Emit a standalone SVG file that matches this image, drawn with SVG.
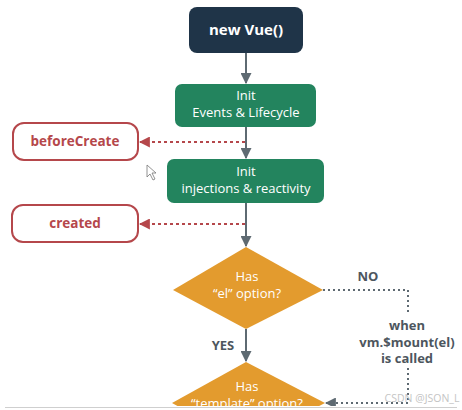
<svg xmlns="http://www.w3.org/2000/svg" width="462" height="410" viewBox="0 0 462 410">
<style>
text{font-family:"Open Sans","Liberation Sans",sans-serif;text-anchor:middle}
.w{fill:#fff;font-size:13px}
.hook{fill:#fff;stroke:#b5474b;stroke-width:2}
.ht{fill:#b5474b;font-size:13.5px;font-weight:bold}
.green{fill:#23845e}
.dia{fill:#e39b2e}
.solid{stroke:#5e6a72;stroke-width:2;fill:none}
.dotr{stroke:#b5474b;stroke-width:2;stroke-dasharray:3 3;fill:none}
.dotg{stroke:#5e6a72;stroke-width:2;stroke-dasharray:2 3;fill:none}
.lbl{fill:#4d565e;font-size:13px;font-weight:bold}
</style>
<defs>
<marker id="ag" viewBox="0 0 10 10" refX="9" refY="5" markerWidth="5.5" markerHeight="5.5" orient="auto"><path d="M0,0L10,5L0,10z" fill="#5e6a72"/></marker>
<marker id="ar" viewBox="0 0 10 10" refX="9" refY="5" markerWidth="5.5" markerHeight="5.5" orient="auto"><path d="M0,0L10,5L0,10z" fill="#b5474b"/></marker>
</defs>
<rect width="462" height="410" fill="#fff"/>
<g id="connectors">
<path class="solid" d="M246,53V83" marker-end="url(#ag)"/>
<path class="solid" d="M246,127V158" marker-end="url(#ag)"/>
<path class="solid" d="M246,203V246" marker-end="url(#ag)"/>
<path class="solid" d="M246,329V361" marker-end="url(#ag)"/>
<path class="dotr" d="M245,142H140" marker-end="url(#ar)"/>
<path class="dotr" d="M245,224H140" marker-end="url(#ar)"/>
<path class="dotg" d="M323,290H408V313"/>
<path class="dotg" d="M408,368V403H326" marker-end="url(#ag)"/>
<text class="lbl" x="368" y="281">NO</text>
<text class="lbl" x="223" y="350">YES</text>
<text class="lbl" x="407" y="330">when</text>
<text class="lbl" x="407" y="346.5">vm.$mount(el)</text>
<text class="lbl" x="407" y="363">is called</text>
</g>
<g id="newVue">
<rect x="189" y="7" width="114" height="46" rx="8" fill="#1f3448"/>
<text x="246" y="35" fill="#fff" font-size="15" font-weight="bold">new Vue()</text>
</g>
<g id="initEvents">
<rect class="green" x="175" y="84" width="141" height="43" rx="7"/>
<text class="w" x="246" y="100">Init</text>
<text class="w" x="246" y="117">Events &amp; Lifecycle</text>
</g>
<g id="beforeCreate">
<rect class="hook" x="13" y="123" width="125" height="37" rx="11"/>
<text class="ht" x="75" y="146">beforeCreate</text>
</g>
<g id="initInjections">
<rect class="green" x="167" y="159" width="157" height="44" rx="7"/>
<text class="w" x="246" y="176">Init</text>
<text class="w" x="246" y="193">injections &amp; reactivity</text>
</g>
<g id="created">
<rect class="hook" x="12" y="205" width="126" height="37" rx="11"/>
<text class="ht" x="75" y="228">created</text>
</g>
<g id="hasEl">
<path class="dia" d="M246,247L323,290L246,329L173,290Z"/>
<text class="w" x="247" y="281">Has</text>
<text class="w" x="247" y="298">“el” option?</text>
</g>
<g id="hasTemplate">
<path class="dia" d="M246,362L325,403L246,444L172,403Z"/>
<text class="w" x="247" y="391">Has</text>
<text class="w" x="247" y="408">“template” option?</text>
</g>
<path d="M147,165L147,177L150,174L153,180L155,179L152,173L156,173Z" fill="#fff" stroke="#777" stroke-width="0.8"/>
<text x="422" y="402" fill="#c4c4c4" font-size="10.5">CSDN @JSON_L</text>
<rect x="0" y="406" width="462" height="4" fill="#fff"/>
<path d="M5,407.5H457" stroke="#cfcfcf" stroke-width="1"/>
</svg>
